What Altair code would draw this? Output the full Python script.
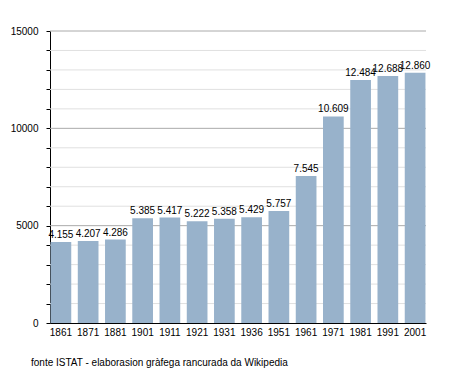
import altair as alt
import pandas as pd

years = ["1861", "1871", "1881", "1901", "1911", "1921", "1931", "1936",
         "1951", "1961", "1971", "1981", "1991", "2001"]
population = [4155, 4207, 4286, 5385, 5417, 5222, 5358, 5429,
              5757, 7545, 10609, 12484, 12688, 12860]
minor_ticks = list(range(0, 16000, 1000))
major_ticks = [0, 5000, 10000, 15000]
caption = "fonte ISTAT - elaborasion gràfega rancurada da Wikipedia"

FONT = "Liberation Sans"
FS = 10

df = pd.DataFrame({
    "year": years,
    "pop": population,
    "label": [f"{v:,}".replace(",", ".") for v in population],
})
minor_df = pd.DataFrame({"v": [t for t in minor_ticks if t not in major_ticks]})
major_df = pd.DataFrame({"v": major_ticks[1:]})

yscale = alt.Scale(domain=[0, 15000], nice=False)
xscale = alt.Scale(paddingInner=0.24, paddingOuter=0.02)

yaxis = alt.Axis(values=minor_ticks, grid=False, tickSize=4,
                 tickColor="black", domainColor="black",
                 labelOverlap=False,
                 labelExpr="datum.value % 5000 == 0 ? datum.label : ''",
                 labelFont=FONT, labelFontSize=FS, labelColor="black",
                 labelPadding=8, format="d")

minor = alt.Chart(minor_df).mark_rule(color="#e0e0e0", strokeWidth=1).encode(
    y=alt.Y("v:Q", scale=yscale, title=None, axis=yaxis)
)
major = alt.Chart(major_df).mark_rule(color="#aaaaaa", strokeWidth=1).encode(
    y=alt.Y("v:Q", scale=yscale, title=None, axis=yaxis)
)

base = alt.Chart(df)
bars = base.mark_bar(color="#98b2cb").encode(
    x=alt.X("year:N", sort=None, scale=xscale, title=None,
            axis=alt.Axis(labelAngle=0, ticks=False, domainColor="black",
                          labelFont=FONT, labelFontSize=FS, labelColor="black",
                          labelPadding=4)),
    y=alt.Y("pop:Q", scale=yscale, title=None, axis=yaxis),
)
labels = base.mark_text(baseline="alphabetic", dy=-4, font=FONT, fontSize=FS,
                        color="black").encode(
    x=alt.X("year:N", sort=None, scale=xscale),
    y=alt.Y("pop:Q", scale=yscale, axis=yaxis),
    text="label:N",
)

chart = alt.layer(minor, major, bars, labels).properties(
    width=376, height=292,
    autosize=alt.AutoSizeParams(type="none"),
    padding={"left": 42, "top": 23, "right": 21, "bottom": 50},
    title=alt.TitleParams(caption, orient="bottom", anchor="start", frame="group",
                          dx=-19, offset=21, font=FONT, fontSize=FS,
                          fontWeight="normal", color="black"),
).configure_view(stroke=None).configure_axis(labelOverlap=False)

chart.save("out.html", embed_options={"renderer": "svg", "actions": False})
